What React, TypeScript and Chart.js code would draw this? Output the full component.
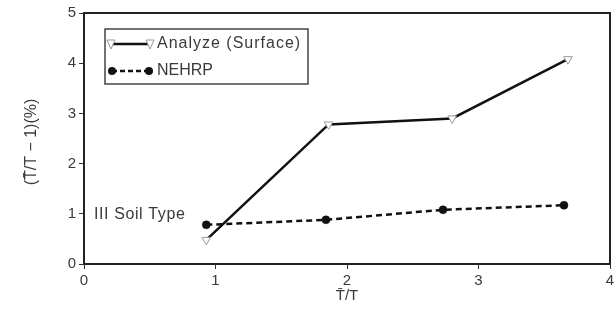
import React, { useEffect, useRef } from "react";
import { Chart, registerables } from "chart.js";
Chart.register(...registerables);

const analyzeX = [0.93, 1.86, 2.8, 3.68];
const analyzeY = [0.48, 2.78, 2.9, 4.08];
const nehrpX = [0.93, 1.84, 2.73, 3.65];
const nehrpY = [0.78, 0.88, 1.08, 1.17];
const xTicks = [0, 1, 2, 3, 4];
const yTicks = [0, 1, 2, 3, 4, 5];
const seriesNames = ["Analyze (Surface)", "NEHRP"];
const annotation = "III Soil Type";
const xTitle = "T\u0304/T";
const yTitle = "(T\u0304/T \u2212 1)(%)";

const FONT = "Liberation Sans, Arial, sans-serif";
const TEXT = "#3a3a3a";

const decorPlugin = {
  id: "decor",
  afterDraw(chart: any) {
    const { ctx, chartArea: a, scales } = chart;
    ctx.save();
    // frame
    ctx.strokeStyle = "#222";
    ctx.lineWidth = 2;
    ctx.strokeRect(a.left, a.top, a.right - a.left, a.bottom - a.top);
    // legend box
    const lx = 105, ly = 29, lw = 203, lh = 55;
    ctx.lineWidth = 1.5;
    ctx.strokeStyle = "#444";
    ctx.fillStyle = "#fff";
    ctx.fillRect(lx, ly, lw, lh);
    ctx.strokeRect(lx, ly, lw, lh);
    // entry 1
    const y1 = 44, y2 = 71;
    ctx.strokeStyle = "#111";
    ctx.lineWidth = 2.5;
    ctx.setLineDash([]);
    ctx.beginPath();
    ctx.moveTo(112, y1);
    ctx.lineTo(148, y1);
    ctx.stroke();
    const tri = (x: number, y: number) => {
      ctx.beginPath();
      ctx.moveTo(x - 4, y - 4);
      ctx.lineTo(x + 4, y - 4);
      ctx.lineTo(x, y + 5);
      ctx.closePath();
      ctx.fillStyle = "#fff";
      ctx.fill();
      ctx.strokeStyle = "#999";
      ctx.lineWidth = 1;
      ctx.stroke();
    };
    tri(111, y1);
    tri(150, y1);
    // entry 2
    ctx.strokeStyle = "#111";
    ctx.lineWidth = 2.5;
    ctx.setLineDash([5, 3]);
    ctx.beginPath();
    ctx.moveTo(112, y2);
    ctx.lineTo(148, y2);
    ctx.stroke();
    ctx.setLineDash([]);
    ctx.fillStyle = "#111";
    [112, 149].forEach((x) => {
      ctx.beginPath();
      ctx.arc(x, y2, 4, 0, Math.PI * 2);
      ctx.fill();
    });
    ctx.fillStyle = TEXT;
    ctx.font = `16px ${FONT}`;
    ctx.textBaseline = "middle";
    ctx.textAlign = "left";
    ctx.letterSpacing = "1px";
    ctx.fillText(seriesNames[0], 157, y1);
    ctx.letterSpacing = "0px";
    ctx.fillText(seriesNames[1], 157, y2);
    // annotation
    ctx.letterSpacing = "0.6px";
    ctx.fillText(annotation, 94, scales.y.getPixelForValue(1) + 1);
    ctx.letterSpacing = "0px";
    // x title
    ctx.textAlign = "center";
    ctx.font = `15px ${FONT}`;
    ctx.fillText(xTitle, scales.x.getPixelForValue(2), 296);
    // y title
    ctx.font = `16px ${FONT}`;
    ctx.save();
    ctx.translate(32, 142);
    ctx.rotate(-Math.PI / 2);
    ctx.fillText(yTitle, 0, 0);
    ctx.restore();
    ctx.restore();
  },
};

export default function App() {
  const ref = useRef<HTMLCanvasElement>(null);
  useEffect(() => {
    document.body.style.margin = "0";
    const chart = new Chart(ref.current!, {
      type: "scatter",
      data: {
        datasets: [
          {
            label: seriesNames[0],
            data: analyzeX.map((x, i) => ({ x, y: analyzeY[i] })),
            showLine: true,
            borderColor: "#111",
            borderWidth: 2.5,
            pointStyle: "triangle",
            rotation: 180,
            pointRadius: 5,
            pointBackgroundColor: "#fff",
            pointBorderColor: "#999",
            pointBorderWidth: 1,
          },
          {
            label: seriesNames[1],
            data: nehrpX.map((x, i) => ({ x, y: nehrpY[i] })),
            showLine: true,
            borderColor: "#111",
            borderWidth: 2.5,
            borderDash: [6, 4],
            pointStyle: "circle",
            pointRadius: 4,
            pointBorderWidth: 0.5,
            pointBackgroundColor: "#111",
            pointBorderColor: "#111",
          },
        ],
      },
      options: {
        animation: false,
        responsive: false,
        maintainAspectRatio: false,
        layout: { padding: { top: 13, right: 4, left: 0, bottom: 0 } },
        plugins: { legend: { display: false }, tooltip: { enabled: false } },
        scales: {
          x: {
            type: "linear",
            min: 0,
            max: 4,
            afterBuildTicks: (s: any) => {
              s.ticks = xTicks.map((v) => ({ value: v }));
            },
            afterFit: (s: any) => {
              s.height = 47;
              s.paddingLeft = 0;
              s.paddingRight = 0;
            },
            grid: { drawOnChartArea: false, drawTicks: true, tickLength: 5, color: "#333" },
            border: { display: false },
            ticks: { color: TEXT, font: { size: 15, family: FONT }, padding: 3 },
          },
          y: {
            type: "linear",
            min: 0,
            max: 5,
            afterBuildTicks: (s: any) => {
              s.ticks = yTicks.map((v) => ({ value: v }));
            },
            afterFit: (s: any) => {
              s.width = 84;
              s.paddingTop = 0;
              s.paddingBottom = 0;
            },
            grid: { drawOnChartArea: false, drawTicks: true, tickLength: 5, color: "#333" },
            border: { display: false },
            ticks: { color: TEXT, font: { size: 15, family: FONT }, padding: 3 },
          },
        },
      },
      plugins: [decorPlugin],
    });
    return () => chart.destroy();
  }, []);
  return <canvas ref={ref} width={616} height={311} style={{ display: "block" }} />;
}
